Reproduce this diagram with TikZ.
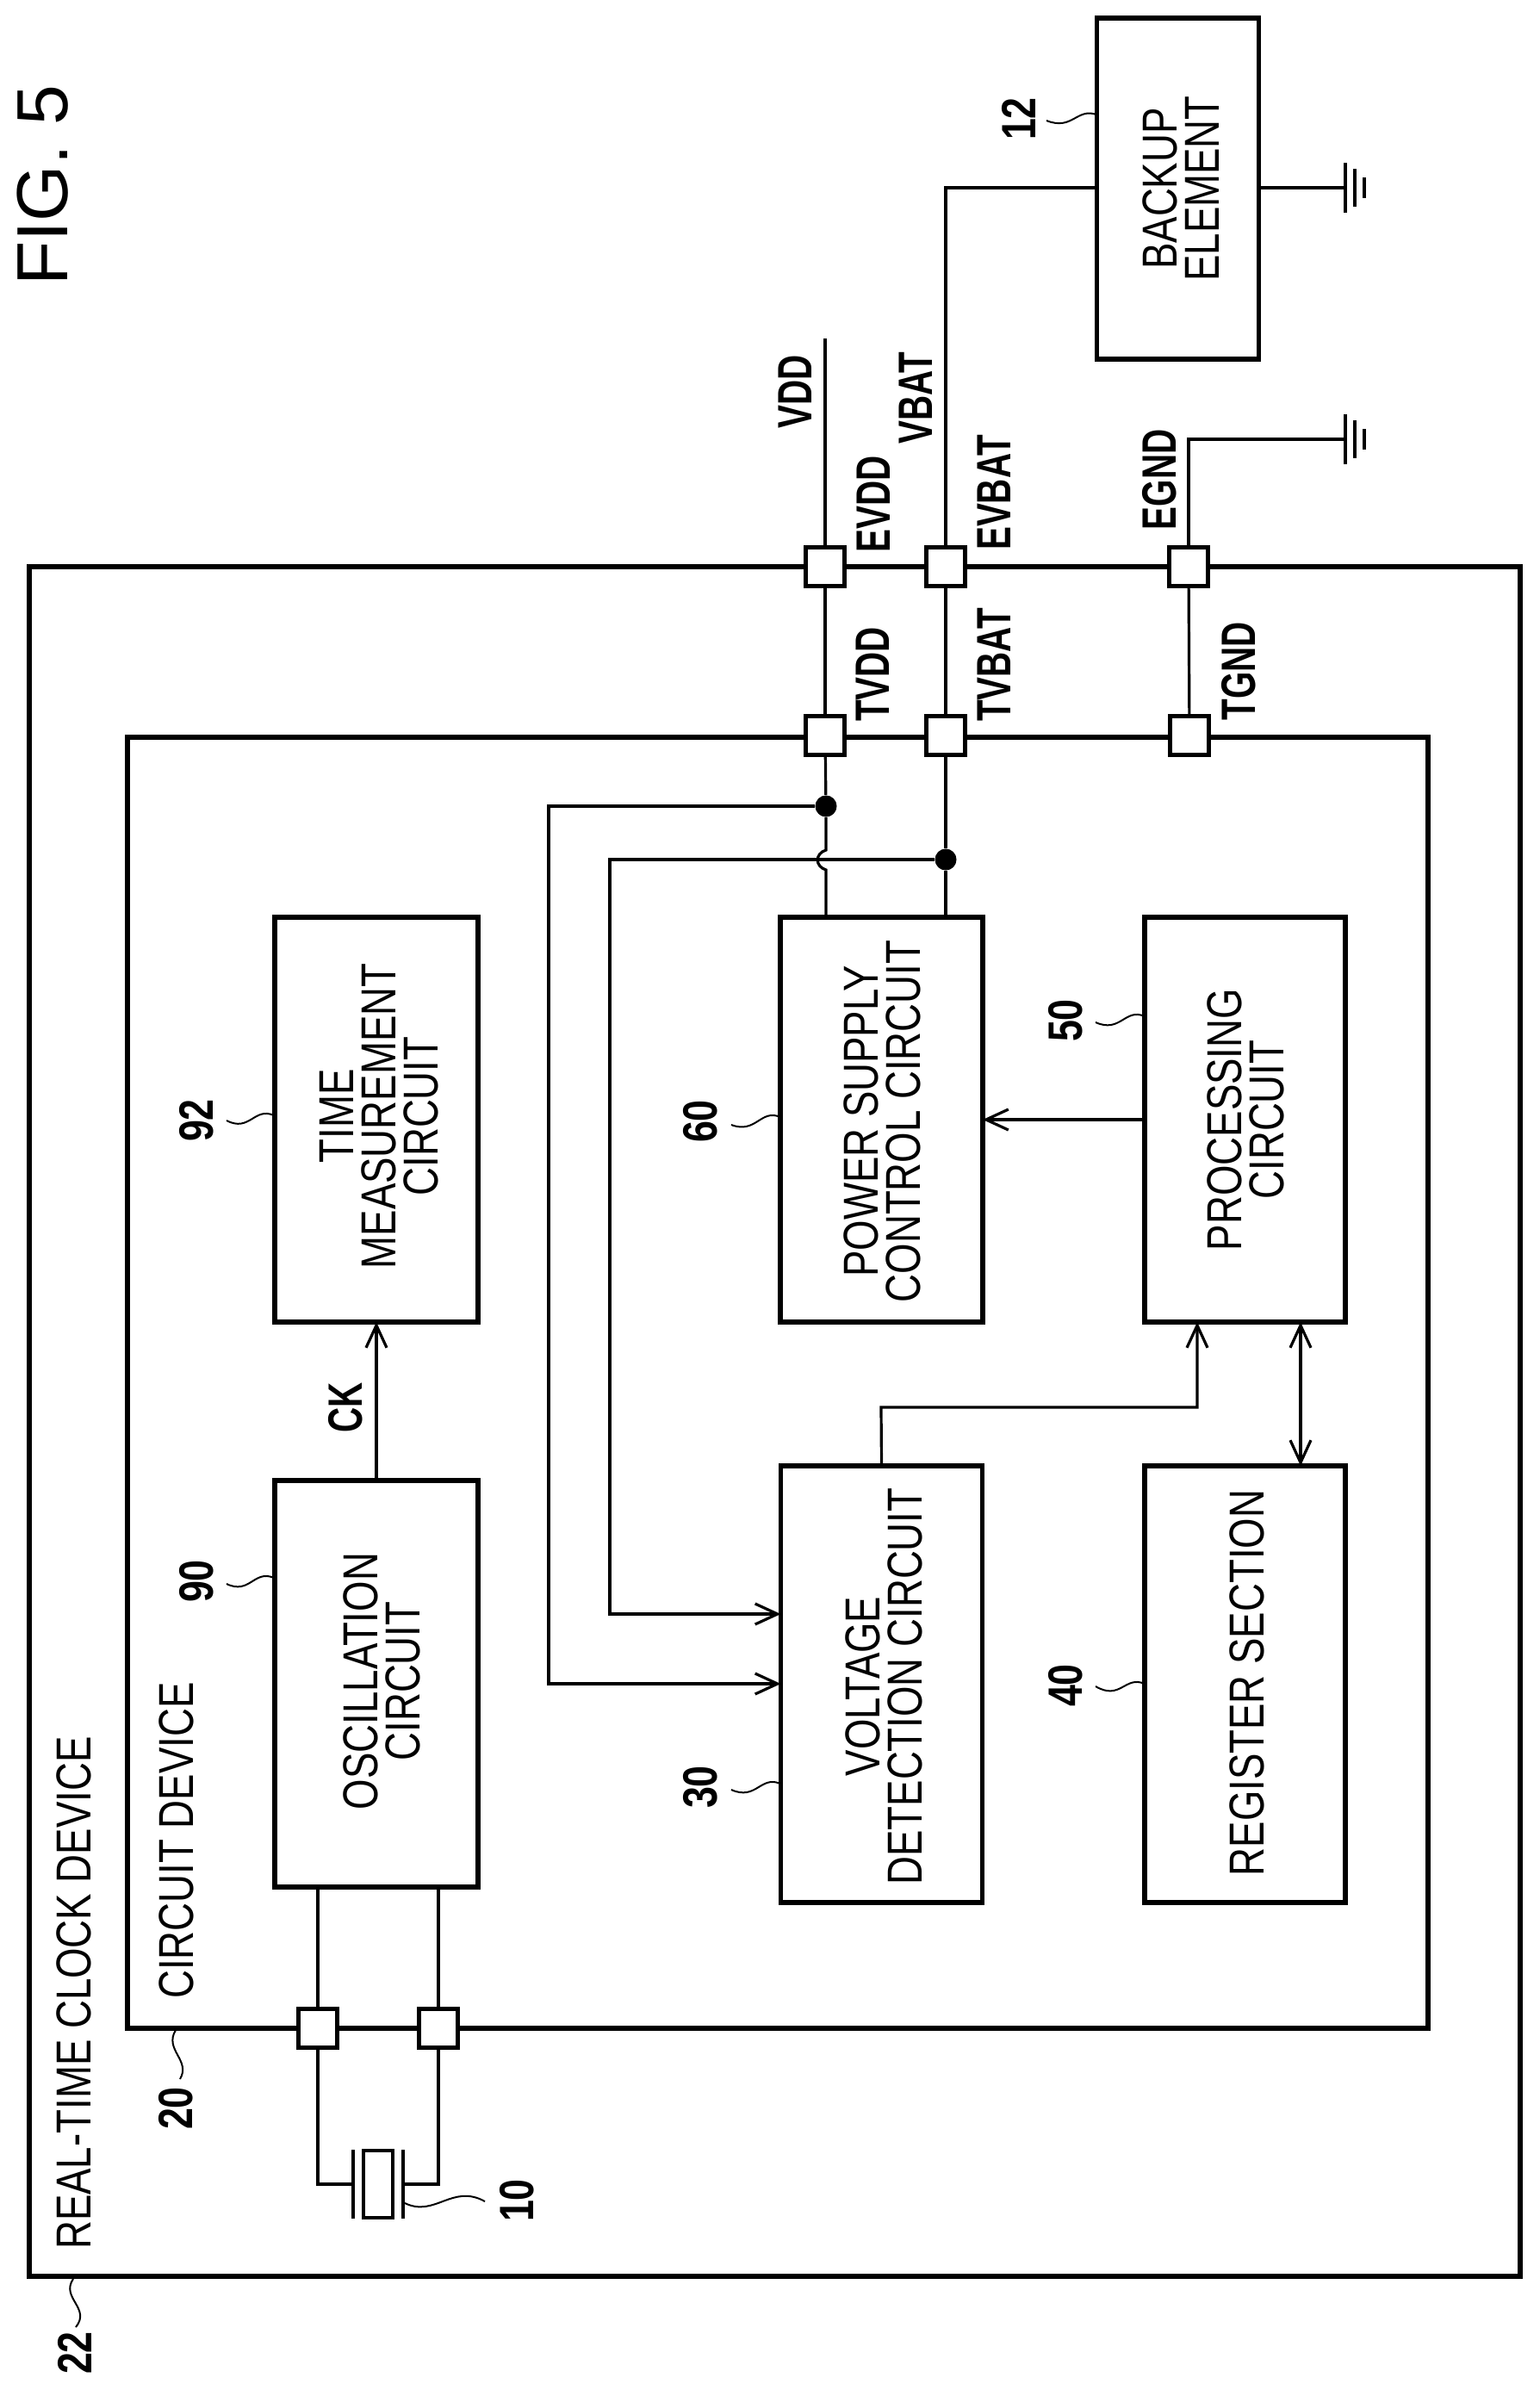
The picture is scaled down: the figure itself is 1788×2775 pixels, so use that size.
\documentclass[tikz,border=0pt]{standalone}
\usepackage{fontspec}
\usetikzlibrary{arrows.meta}
\setmainfont{Liberation Sans}
\newfontfamily\blockfont[FakeStretch=0.80]{Liberation Sans}
\newfontfamily\termfont[FakeStretch=0.72]{Liberation Sans Bold}
\newfontfamily\numfont[FakeStretch=0.80]{Liberation Sans Bold}
\newcommand{\leader}[5]{%
  \coordinate (#1a) at (#2);\coordinate (#1b) at (#5);
  \draw[leadline] (#1a) .. controls (#3) and (#4) .. (#1b);}
\tikzset{
  x=0.5pt,y=-0.5pt,
  frame/.style={draw=black,line width=2.6pt,fill=none,inner sep=0pt,outer sep=0pt},
  block/.style={draw=black,line width=2.6pt,fill=white,inner sep=0pt,outer sep=0pt},
  pad/.style={draw=black,line width=2.6pt,fill=white,inner sep=0pt,outer sep=0pt,minimum width=22.5pt,minimum height=22.5pt},
  wire/.style={draw=black,line width=1.6pt},
  arrowwire/.style={wire,-{Straight Barb[length=13pt,width=12pt,line width=1.6pt]}},
  biwire/.style={wire,{Straight Barb[length=13pt,width=12pt,line width=1.6pt]}-{Straight Barb[length=13pt,width=12pt,line width=1.6pt]}},
  leadline/.style={draw=black,line width=1pt},
  blocktext/.style={rotate=90,align=center,inner sep=0pt,font=\blockfont\fontsize{28.5}{24.5}\selectfont},
  termtext/.style={rotate=90,inner sep=0pt,font=\termfont\fontsize{28}{28}\selectfont},
  numtext/.style={rotate=90,inner sep=0pt,font=\numfont\fontsize{28}{28}\selectfont},
  junction/.style={circle,fill=black,inner sep=0pt,minimum size=12.5pt},
  plate/.style={fill=black,inner sep=0pt,outer sep=0pt,minimum width=2.4pt,minimum height=40pt},
  gndsym/.pic={\draw[line width=2pt] (0,-29)--(0,29);\draw[line width=1.8pt] (11,-22)--(11,22) (22,-12)--(22,12);}
}
\begin{document}
\begin{tikzpicture}
\fill[white] (0,0) rectangle (1788,2775);
\useasboundingbox (0,0) rectangle (1788,2775);
% frames
\node[frame,minimum width=865.5pt,minimum height=992.5pt] (outer) at (899.5,1650.5) {};
\node[frame,minimum width=755pt,minimum height=749.5pt] (inner) at (903,1605.5) {};
% blocks
\node[block,minimum width=118pt,minimum height=235pt] (tm) at (437,1300) {};
\node[block,minimum width=118pt,minimum height=236pt] (osc) at (437,1955) {};
\node[block,minimum width=117.5pt,minimum height=235pt] (pow) at (1023.5,1300) {};
\node[block,minimum width=116.5pt,minimum height=235pt] (proc) at (1445.5,1300) {};
\node[block,minimum width=117pt,minimum height=253.5pt] (volt) at (1023.5,1955.5) {};
\node[block,minimum width=116.5pt,minimum height=253.5pt] (reg) at (1445.5,1955.5) {};
\node[block,minimum width=94pt,minimum height=198pt] (backup) at (1367.5,219) {};
% pads
\node[pad] (evdd) at (958,658) {};
\node[pad] (evbat) at (1098,658) {};
\node[pad] (egnd) at (1380,658) {};
\node[pad] (tvdd) at (958,854) {};
\node[pad] (tvbat) at (1098,854) {};
\node[pad] (tgnd) at (1381,854) {};
\node[pad] (xa) at (369,2355) {};
\node[pad] (xb) at (509,2355) {};
% junctions
\node[junction] (dvdd) at (959,936) {};
\node[junction] (dvbat) at (1098,998) {};
% free points
\coordinate (vddtop) at (958,393);
\coordinate (bturn) at (1098,218);
\coordinate (bleft) at (backup.west |- bturn);
\coordinate (bright) at (backup.east |- bturn);
\coordinate (gndone) at (1562,218);
\coordinate (eturn) at (1380,510);
\coordinate (gndtwo) at (1562,510);
\coordinate (jtop) at (959,987);
\coordinate (jbot) at (959,1010);
\coordinate (powvdd) at (pow.north -| dvdd);
\coordinate (powvbat) at (pow.north -| dvbat);
\coordinate (wa) at (637,936);
\coordinate (wb) at (708,998);
\coordinate (inb) at (volt.west |- 0,1874);
\coordinate (ina) at (volt.west |- 0,1955);
\coordinate (vturn) at (1023,1634);
\coordinate (procin) at (proc.south -| 1390,0);
\coordinate (procbi) at (proc.south -| 1510,0);
\coordinate (regbi) at (reg.north -| 1510,0);
\coordinate (oscA) at (osc.south -| xa);
\coordinate (oscB) at (osc.south -| xb);
\coordinate (ca) at (369,2536);
\coordinate (cb) at (509,2536);
% crystal
\node[block,minimum width=17pt,minimum height=39pt,line width=2pt] (xtal) at (439,2536) {};
\node[plate] (pla) at (410,2536) {};
\node[plate] (plb) at (468,2536) {};
% wires
\draw[wire] (vddtop) -- (evdd);
\draw[wire] (evdd) -- (tvdd);
\draw[wire] (tvdd) -- (dvdd);
\draw[wire] (dvdd) -- (jtop) .. controls (946,991) and (946,1006) .. (jbot) -- (powvdd);
\draw[wire] (bleft) -- (bturn) -- (evbat);
\draw[wire] (evbat) -- (tvbat);
\draw[wire] (tvbat) -- (dvbat);
\draw[wire] (dvbat) -- (powvbat);
\draw[wire] (egnd) -- (tgnd);
\draw[wire] (egnd) -- (eturn) -- (gndtwo);
\draw[wire] (bright) -- (gndone);
\draw[arrowwire] (dvdd) -- (wa) |- (ina);
\draw[arrowwire] (dvbat) -- (wb) |- (inb);
\draw[arrowwire] (osc.north) -- (tm.south);
\draw[arrowwire] (proc.west) -- (pow.east);
\draw[arrowwire] (volt.north) -- (vturn) -| (procin);
\draw[biwire] (regbi) -- (procbi);
\draw[wire] (oscA) -- (xa);
\draw[wire] (oscB) -- (xb);
\draw[wire] (xa) -- (ca) -- (pla);
\draw[wire] (xb) -- (cb) -- (plb);
\pic at (gndone) {gndsym};
\pic at (gndtwo) {gndsym};
% leaders
\leader{la}{85,2646}{70,2668}{106,2680}{88,2702}
\leader{lb}{204,2357}{190,2380}{222,2392}{209,2414}
\leader{lc}{470,2558}{505,2575}{525,2535}{563,2556}
\leader{ld}{1273,133}{1250,125}{1245,152}{1215,140}
\leader{le}{318,1295}{295,1285}{290,1315}{263,1301}
\leader{lf}{318,1832}{295,1822}{290,1852}{263,1839}
\leader{lg}{906,1297}{883,1287}{878,1317}{849,1306}
\leader{lh}{906,2071}{883,2061}{878,2091}{849,2078}
\leader{li}{1329,1180}{1306,1170}{1301,1200}{1272,1187}
\leader{lj}{1329,1955}{1306,1945}{1301,1975}{1272,1958}
% texts
\node[rotate=90,inner sep=0pt,font=\fontsize{42}{42}\selectfont] (fig) at (50,215) {FIG. 5};
\node[blocktext] (realt) at (86,2314) {REAL-TIME CLOCK DEVICE};
\node[blocktext] (circt) at (205,2137) {CIRCUIT DEVICE};
\node[blocktext] (tmt) at (440,1296) {TIME\\MEASUREMENT\\CIRCUIT};
\node[blocktext] (osct) at (443,1952) {OSCILLATION\\CIRCUIT};
\node[blocktext] (powt) at (1024,1302) {POWER SUPPLY\\CONTROL CIRCUIT};
\node[blocktext] (proct) at (1446,1300) {PROCESSING\\CIRCUIT};
\node[blocktext] (voltt) at (1026,1958) {VOLTAGE\\DETECTION CIRCUIT};
\node[blocktext] (regt) at (1448,1954) {REGISTER SECTION};
\node[blocktext] (backt) at (1371,219) {BACKUP\\ELEMENT};
\node[termtext] (vddl) at (923,455) {VDD};
\node[termtext] (vbatl) at (1063,462) {VBAT};
\node[termtext] (evddl) at (1014,585) {EVDD};
\node[termtext] (evbatl) at (1154,572) {EVBAT};
\node[termtext] (egndl) at (1346,557) {EGND};
\node[termtext] (tvddl) at (1013,783) {TVDD};
\node[termtext] (tvbatl) at (1154,772) {TVBAT};
\node[termtext] (tgndl) at (1438,779) {TGND};
\node[termtext] (ckl) at (401,1634) {CK};
\node[numtext] (n22) at (87,2732) {22};
\node[numtext] (n20) at (204,2448) {20};
\node[numtext] (n10) at (600,2555) {10};
\node[numtext] (n12) at (1183,138) {12};
\node[numtext] (n92) at (228,1301) {92};
\node[numtext] (n90) at (228,1836) {90};
\node[numtext] (n60) at (813,1302) {60};
\node[numtext] (n30) at (813,2075) {30};
\node[numtext] (n50) at (1237,1185) {50};
\node[numtext] (n40) at (1237,1957) {40};
\end{tikzpicture}
\end{document}
